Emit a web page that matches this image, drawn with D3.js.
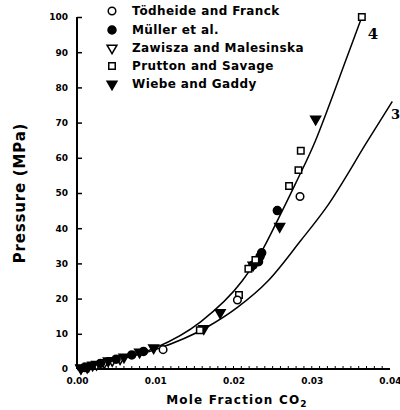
<!DOCTYPE html>
<html><head><meta charset="utf-8">
<script src="https://cdn.jsdelivr.net/npm/d3@7"></script>
<style>body{margin:0;background:#fff}svg{display:block}</style>
</head><body>
<svg id="c" width="400" height="410"></svg>
<script>
const xTicks = [0, 0.01, 0.02, 0.03, 0.04];
const xTickLabels = ["0.00", "0.01", "0.02", "0.03", "0.04"];
const yTicks = [0, 10, 20, 30, 40, 50, 60, 70, 80, 90, 100];
const seriesNames = ["Tödheide and Franck", "Müller et al.", "Zawisza and Malesinska", "Prutton and Savage", "Wiebe and Gaddy"];
const todheide = [[0.011, 5.5], [0.0205, 19.6], [0.0285, 49]];
const muller = [[0.0225, 29.5], [0.0232, 30.5], [0.0234, 32], [0.0236, 33], [0.0256, 45], [0.001, 0.4], [0.003, 1.6], [0.005, 2.8], [0.007, 4], [0.0085, 5]];
const zawisza = [[0.0005, 0.3], [0.0015, 0.8], [0.0025, 1.3], [0.0035, 1.8], [0.0045, 2.4], [0.0055, 2.9]];
const prutton = [[0.0364, 100], [0.0286, 62], [0.0283, 56.5], [0.0271, 52], [0.0207, 21], [0.0219, 28.5], [0.0228, 31], [0.0157, 11]];
const wiebe = [[0.0305, 71], [0.0259, 40.5], [0.0183, 16], [0.0225, 29.5], [0.0162, 11.5], [0.002, 1.1], [0.004, 2.3], [0.006, 3.4], [0.008, 4.8], [0.0098, 6], [0.0013, 0.5], [0.0005, 0.2]];
const curve4 = [[0, 0], [0.005, 2.6], [0.01, 6], [0.0158, 13.4], [0.0211, 25], [0.0235, 33], [0.0258, 43], [0.028, 53], [0.0305, 65], [0.032, 73.6], [0.0344, 88], [0.0364, 100]];
const curve3 = [[0, 0], [0.005, 2.5], [0.01, 5.5], [0.0167, 12], [0.0205, 17.5], [0.0244, 25], [0.0286, 36.5], [0.0318, 45.7], [0.0372, 65], [0.0403, 76]];

const svg = d3.select("#c");
const x = d3.scaleLinear().domain([0, 0.04]).range([77, 390]);
const y = d3.scaleLinear().domain([0, 100]).range([369, 17]);
const font = "'DejaVu Sans', sans-serif";

// axes
const yAxis = svg.append("g").attr("transform", "translate(77,0)")
  .call(d3.axisLeft(y).tickValues(yTicks).tickSize(-5).tickPadding(9).tickFormat(d3.format("d")));
yAxis.select(".domain").attr("d", `M0,${y(100)}V${y(0)}`).attr("stroke-width", 2);
yAxis.selectAll(".tick line").attr("stroke-width", 1.5);
yAxis.selectAll("text").attr("font-family", font).attr("font-weight", "bold").attr("font-size", 9).attr("fill", "#000");

const xAxis = svg.append("g").attr("transform", "translate(0,369)")
  .call(d3.axisBottom(x).tickValues(xTicks).tickSize(0).tickPadding(9).tickFormat((d, i) => xTickLabels[i]));
xAxis.select(".domain").attr("d", `M${x(0)},0H${x(0.04)}`).attr("stroke-width", 2);
xAxis.selectAll("text").attr("font-family", font).attr("font-weight", "bold").attr("font-size", 9).attr("fill", "#000");
xAxis.selectAll("text").filter((d, i) => i === xTicks.length - 1).attr("text-anchor", "end").attr("dx", 11);
// minor ticks
const minor = d3.range(1, 40).map(i => i / 1000);
svg.append("g").selectAll("line").data(minor).join("line")
  .attr("x1", d => x(d)).attr("x2", d => x(d)).attr("y1", 369).attr("y2", 366)
  .attr("stroke", "#000").attr("stroke-width", 1);

// labels
svg.append("text").attr("transform", "translate(25,193) rotate(-90)").attr("text-anchor", "middle")
  .attr("font-family", font).attr("font-weight", "bold").attr("font-size", 15).attr("letter-spacing", 0.8).text("Pressure (MPa)");
const xl = svg.append("text").attr("x", 237).attr("y", 404).attr("text-anchor", "middle")
  .attr("font-family", font).attr("font-weight", "bold").attr("font-size", 12).attr("letter-spacing", 1.2);
xl.append("tspan").text("Mole Fraction CO");
xl.append("tspan").attr("dy", 3).attr("font-size", 9).text("2");

// curves
const line = d3.line().x(d => x(d[0])).y(d => y(d[1])).curve(d3.curveMonotoneX);
svg.append("path").attr("d", line(curve4)).attr("fill", "none").attr("stroke", "#000").attr("stroke-width", 1.5);
svg.append("path").attr("d", line(curve3)).attr("fill", "none").attr("stroke", "#000").attr("stroke-width", 1.5);
svg.append("text").attr("x", x(0.0364) + 6).attr("y", 39).attr("font-family", "'DejaVu Serif', serif").attr("font-weight", "bold").attr("font-size", 15).text("4");
svg.append("text").attr("x", 391).attr("y", 119).attr("font-family", "'DejaVu Serif', serif").attr("font-weight", "bold").attr("font-size", 13).text("3");

// markers
const sym = {
  circleOpen: d3.symbol().type(d3.symbolCircle).size(45),
  circle: d3.symbol().type(d3.symbolCircle).size(50),
  square: d3.symbol().type(d3.symbolSquare).size(42),
  tri: d3.symbol().type(d3.symbolTriangle).size(42)
};
function drawPts(data, path, fill, rot) {
  svg.append("g").selectAll("path").data(data).join("path")
    .attr("d", path)
    .attr("transform", d => `translate(${x(d[0])},${y(d[1])})${rot ? " rotate(180)" : ""}`)
    .attr("fill", fill).attr("stroke", "#000").attr("stroke-width", 1.5);
}
drawPts(zawisza, sym.tri(), "#fff", true);
drawPts(muller, sym.circle(), "#000", false);
drawPts(wiebe, sym.tri(), "#000", true);
drawPts(prutton, sym.square(), "#fff", false);
drawPts(todheide, sym.circleOpen(), "#fff", false);

// legend
const legendY = [15, 34, 52, 70, 88];
const legendSym = [[sym.circleOpen(), "#fff", false], [sym.circle(), "#000", false], [sym.tri(), "#fff", true], [sym.square(), "#fff", false], [sym.tri(), "#000", true]];
const lg = svg.append("g");
seriesNames.forEach((n, i) => {
  const s = legendSym[i];
  lg.append("path").attr("d", s[0]).attr("transform", `translate(112,${legendY[i] - 4})${s[2] ? " rotate(180)" : ""}`)
    .attr("fill", s[1]).attr("stroke", "#000").attr("stroke-width", 1.5);
  lg.append("text").attr("x", 132).attr("y", legendY[i]).attr("font-family", font).attr("font-weight", "bold")
    .attr("font-size", 12).attr("letter-spacing", 0.4).text(n);
});
</script>
</body></html>
